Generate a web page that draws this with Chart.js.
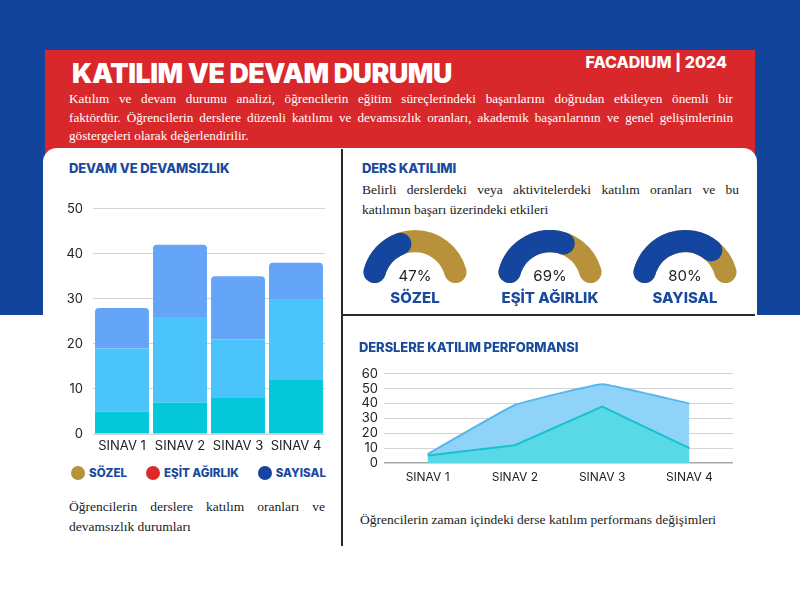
<!DOCTYPE html>
<html><head><meta charset="utf-8">
<script src="https://cdn.jsdelivr.net/npm/chart.js@4"></script>
<style>
*{margin:0;padding:0;box-sizing:border-box}
body{width:800px;height:600px;position:relative;background:#fff;font-family:Inter,"Open Sans",sans-serif;overflow:hidden}
.a{position:absolute}
.serif{font-family:"Liberation Serif","DejaVu Serif",serif}
.jl{text-align:justify;text-align-last:justify;white-space:nowrap}
.jl.last{text-align-last:left}
.h{font-weight:800;color:#1a4a9c;font-size:13px;letter-spacing:-0.1px}
.gl{font-weight:800;color:#1a4a9c;font-size:15px;text-align:center;width:140px}
.gp{font-size:15px;color:#222;text-align:center;width:80px}
.leg{display:flex;align-items:center;font-weight:800;color:#1a4a9c;font-size:11.6px}
.dot{width:14px;height:14px;border-radius:50%;margin-right:4px}
</style></head>
<body>
<div class="a" style="left:0;top:0;width:800px;height:315px;background:#12449c"></div>
<div class="a" style="left:45px;top:50px;width:710px;height:104px;background:#d9282b"></div>
<div class="a" style="left:43px;top:148px;width:714px;height:200px;background:#fff;border-radius:14px 14px 0 0"></div>
<div class="a" style="left:341px;top:149px;width:1.5px;height:397px;background:#2a2a2a"></div>
<div class="a" style="left:342px;top:314px;width:413px;height:1.5px;background:#2a2a2a"></div>

<div class="a" style="left:72px;top:57px;font-weight:900;font-size:26.8px;color:#fff;letter-spacing:-0.45px">KATILIM VE DEVAM DURUMU</div>
<div class="a" style="left:540px;width:187px;text-align:right;top:52px;font-weight:800;font-size:16px;color:#fff">FACADIUM | 2024</div>
<div class="a serif" id="hdr" style="left:69px;top:90px;width:664px;font-size:13.2px;line-height:18.5px;color:#fff"></div>

<div class="a h" style="left:69px;top:160px">DEVAM VE DEVAMSIZLIK</div>
<canvas id="bar" class="a" width="275" height="268" style="left:55px;top:191px"></canvas>
<div class="a" id="legend" style="left:71px;top:466px;width:255px;display:flex;gap:0;justify-content:space-between"></div>
<div class="a serif" id="cap1" style="left:69px;top:497px;width:256px;font-size:13.5px;line-height:20px;color:#222"></div>

<div class="a h" style="left:362px;top:160px">DERS KATILIMI</div>
<div class="a serif" id="p2" style="left:362px;top:180px;width:377px;font-size:13.5px;line-height:20px;color:#222"></div>
<div id="gauges"></div>

<div class="a h" style="left:359px;top:339px">DERSLERE KATILIM PERFORMANSI</div>
<canvas id="line" class="a" width="385" height="127" style="left:355px;top:360px"></canvas>
<div class="a serif" style="left:360px;top:512px;font-size:13.5px;color:#222">Öğrencilerin zaman içindeki derse katılım performans değişimleri</div>

<script>
// ---- data ----
const categories = ['SINAV 1', 'SINAV 2', 'SINAV 3', 'SINAV 4'];
const barBottom = [5, 7, 8, 12];
const barMiddle = [14, 19, 13, 18];
const barTop = [9, 16, 14, 8];
const barTicksMax = 50;
const lineUpper = [6, 39, 53, 40];
const lineLower = [5, 12, 38, 10];
const lineTicksMax = 60;
const gaugeLabels = ['SÖZEL', 'EŞİT AĞIRLIK', 'SAYISAL'];
const gaugeValues = [47, 69, 80];
const legendLabels = ['SÖZEL', 'EŞİT AĞIRLIK', 'SAYISAL'];
const headerLines = [
  'Katılım ve devam durumu analizi, öğrencilerin eğitim süreçlerindeki başarılarını doğrudan etkileyen önemli bir',
  'faktördür. Öğrencilerin derslere düzenli katılımı ve devamsızlık oranları, akademik başarılarının ve genel gelişimlerinin',
  'göstergeleri olarak değerlendirilir.'
];
const p2Lines = ['Belirli derslerdeki veya aktivitelerdeki katılım oranları ve bu', 'katılımın başarı üzerindeki etkileri'];
const cap1Lines = ['Öğrencilerin derslere katılım oranları ve', 'devamsızlık durumları'];

// ---- style ----
const BLUE = '#1446a0', GOLD = '#b8923a', RED = '#dc2a2a';
const legendColors = [GOLD, RED, BLUE];

function fillLines(id, lines) {
  const el = document.getElementById(id);
  lines.forEach((t, i) => {
    const d = document.createElement('div');
    d.className = 'jl' + (i === lines.length - 1 ? ' last' : '');
    d.textContent = t;
    el.appendChild(d);
  });
}
fillLines('hdr', headerLines);
fillLines('p2', p2Lines);
fillLines('cap1', cap1Lines);

const leg = document.getElementById('legend');
legendLabels.forEach((t, i) => {
  const d = document.createElement('div');
  d.className = 'leg';
  d.innerHTML = '<span class="dot" style="background:' + legendColors[i] + '"></span>' + t;
  leg.appendChild(d);
});

Chart.defaults.font.family = 'Inter, "Open Sans", sans-serif';
Chart.defaults.color = '#222';
Chart.defaults.animation = false;

new Chart(document.getElementById('bar'), {
  type: 'bar',
  data: {
    labels: categories,
    datasets: [
      {data: barBottom, backgroundColor: '#04c8da', borderWidth: 0},
      {data: barMiddle, backgroundColor: '#4bc3fb', borderWidth: 0},
      {data: barTop, backgroundColor: '#64a5f7', borderWidth: 0, borderRadius: 4}
    ]
  },
  options: {
    responsive: false,
    layout: {padding: {top: 10, right: 5}},
    plugins: {legend: {display: false}, tooltip: {enabled: false}},
    datasets: {bar: {barPercentage: 0.93, categoryPercentage: 1}},
    scales: {
      x: {stacked: true, grid: {display: false, drawTicks: false}, border: {display: false},
          ticks: {font: {size: 13}, padding: 4, maxRotation: 0},
          afterFit: s => { s.height = 25; }},
      y: {stacked: true, min: 0, max: barTicksMax, border: {display: false},
          grid: {color: '#d4d4d4', drawTicks: false},
          ticks: {stepSize: 10, font: {size: 13}, padding: 10},
          afterFit: s => { s.width = 38; }}
    }
  }
});

new Chart(document.getElementById('line'), {
  type: 'line',
  data: {
    labels: categories,
    datasets: [
      {data: lineLower, borderColor: '#16c1d0', backgroundColor: '#58d9e5', fill: 'origin', borderWidth: 2, pointRadius: 0, tension: 0},
      {data: lineUpper, borderColor: '#58b8ec', backgroundColor: '#8fd4f8', fill: 'origin', borderWidth: 2, pointRadius: 0, tension: 0.08}
    ]
  },
  options: {
    responsive: false,
    layout: {padding: {top: 8, right: 7}},
    plugins: {legend: {display: false}, tooltip: {enabled: false}, filler: {propagate: false}},
    scales: {
      x: {offset: true, grid: {display: false, drawTicks: false}, border: {display: false},
          ticks: {font: {size: 12}, padding: 7, maxRotation: 0},
          afterFit: s => { s.height = 24; }},
      y: {min: 0, max: lineTicksMax, border: {display: false},
          grid: {color: c => c.tick.value === 0 ? '#a8a8a8' : '#d4d4d4', lineWidth: c => c.tick.value === 0 ? 1.5 : 1, drawTicks: false},
          ticks: {stepSize: 10, autoSkip: false, font: {size: 13}, padding: 6},
          afterFit: s => { s.width = 29; }}
    }
  }
});

const gaugeCenters = [415, 550, 685];
const gwrap = document.getElementById('gauges');
gaugeValues.forEach((v, i) => {
  const cx = gaugeCenters[i], cy = 283, R = 53;
  ['bg', 'fg'].forEach(layer => {
    const c = document.createElement('canvas');
    c.width = 2 * R; c.height = R;
    c.className = 'a';
    c.style.left = (cx - R) + 'px'; c.style.top = (cy - R) + 'px';
    gwrap.appendChild(c);
    new Chart(c, {
      type: 'doughnut',
      data: {
        labels: layer === 'bg' ? ['Toplam'] : [gaugeLabels[i], ''],
        datasets: [{
          data: layer === 'bg' ? [100] : [v, 100 - v],
          backgroundColor: layer === 'bg' ? [GOLD] : [BLUE, 'rgba(0,0,0,0)'],
          borderWidth: 0,
          borderRadius: 12
        }]
      },
      options: {
        responsive: false, rotation: -90, circumference: 180, cutout: '58%',
        plugins: {legend: {display: false}, tooltip: {enabled: false}}
      }
    });
  });
  const p = document.createElement('div');
  p.className = 'a gp'; p.textContent = v + '%';
  p.style.left = (cx - 40) + 'px'; p.style.top = '266px';
  gwrap.appendChild(p);
  const l = document.createElement('div');
  l.className = 'a gl'; l.textContent = gaugeLabels[i];
  l.style.left = (cx - 70) + 'px'; l.style.top = '288px';
  gwrap.appendChild(l);
});
</script>
</body></html>
